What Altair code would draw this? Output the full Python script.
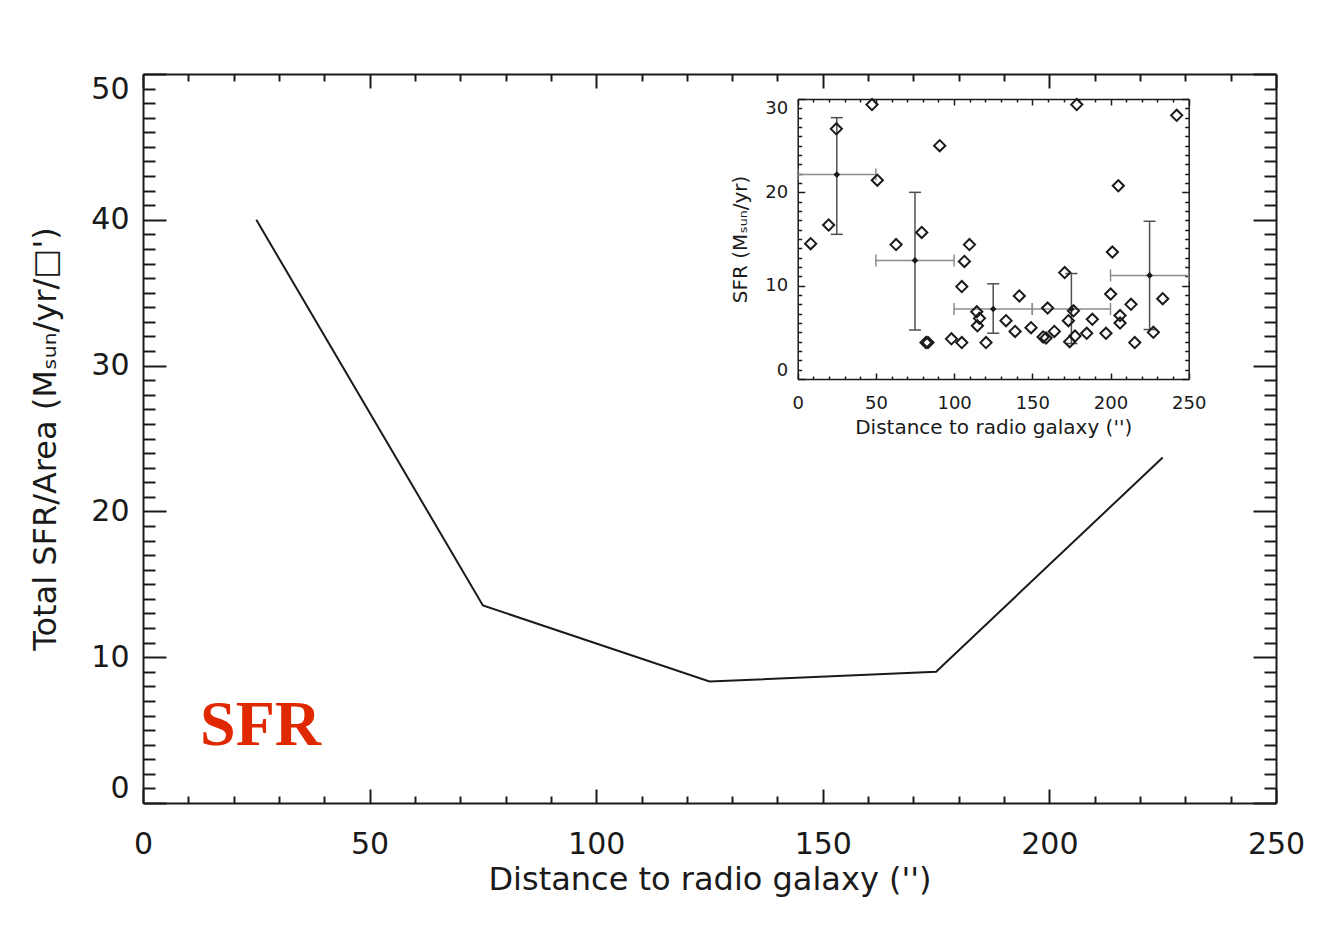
import altair as alt
import pandas as pd

# ---------------- data ----------------
# main panel: total SFR per area in distance bins
main_x = [25, 75, 125, 175, 225]
main_y = [40.0, 13.55, 8.33, 9.0, 23.7]

# inset: individual galaxies
pts_x = [8.3, 19.8, 24.7, 47.5, 50.9, 62.9, 79.3, 90.8, 82.0, 83.3,
         98.3, 104.9, 104.9, 106.6, 109.8, 114.5, 116.2, 114.9, 120.4, 133.2,
         139.0, 141.7, 149.2, 156.9, 158.8, 159.8, 164.1, 170.7, 173.1, 176.3,
         173.9, 177.3, 178.4, 184.8, 188.4, 197.1, 200.1, 201.2, 206.1, 206.1,
         205.0, 213.1, 215.5, 227.4, 233.4, 242.3]
pts_y = [14.5, 16.5, 26.8, 29.4, 21.3, 14.4, 15.7, 25.0, 3.9, 3.9,
         4.3, 3.9, 9.9, 12.6, 14.4, 7.2, 6.5, 5.7, 3.9, 6.25,
         5.1, 8.9, 5.5, 4.5, 4.4, 7.6, 5.1, 11.4, 6.25, 7.3,
         4.0, 4.6, 29.4, 4.9, 6.4, 4.9, 9.1, 13.6, 6.8, 6.0,
         20.7, 8.0, 3.9, 5.0, 8.6, 28.25]

# inset: binned means with error bars
bin_xc = [25, 75, 125, 175, 225]
bin_xlo = [0, 50, 100, 150, 200]
bin_xhi = [50, 100, 150, 200, 250]
bin_yc = [21.9, 12.7, 7.5, 7.5, 11.1]
bin_ylo = [15.5, 5.25, 4.9, 3.8, 5.3]
bin_yhi = [28.0, 20.0, 10.2, 11.3, 16.9]

label_text = ["SFR"]
label_x = [12.6]
label_y = [4.0]

x_major = [0, 50, 100, 150, 200, 250]
x_minor = list(range(0, 251, 10))
y_major = [0, 10, 20, 30, 40, 50]
y_minor = list(range(0, 51))
iy_major = [0, 10, 20, 30]
iy_minor = list(range(0, 31))

# ---------------- layout ----------------
W, H = 1133, 729
IX0, IX1 = 654.7, 1045.7
IY0, IY1 = 305.0, 25.0
FONT = "DejaVu Sans"
INK = "#1a1a1a"

main_df = pd.DataFrame({"x": main_x, "y": main_y})
pts_df = pd.DataFrame({"x": pts_x, "y": pts_y})
bin_df = pd.DataFrame({"xc": bin_xc, "xlo": bin_xlo, "xhi": bin_xhi,
                       "yc": bin_yc, "ylo": bin_ylo, "yhi": bin_yhi})
lab_df = pd.DataFrame({"x": label_x, "y": label_y, "t": label_text})


def mxs():
    return alt.Scale(domain=[0, 250], nice=False, zero=False)


def mys():
    return alt.Scale(domain=[0, 50], nice=False, zero=False)


def ixs():
    return alt.Scale(domain=[0, 250], range=[IX0, IX1], nice=False, zero=False)


def iys():
    return alt.Scale(domain=[0, 30], range=[IY0, IY1], nice=False, zero=False)


def tick_axis(orient, offset, values, test, major, minor, width, domain):
    return alt.Axis(orient=orient, offset=offset, values=values, labels=False,
                    title="", grid=False, domain=domain, domainColor=INK,
                    domainWidth=width, ticks=True, tickColor=INK, tickWidth=width,
                    tickSize={"condition": {"test": test, "value": major},
                              "value": minor})


def label_axis(orient, offset, values, lsize, tsize, pad, flush, title, tpad, width):
    return alt.Axis(orient=orient, offset=offset, values=values, ticks=False,
                    tickSize=0, grid=False, domain=True, domainColor=INK,
                    domainWidth=width, labelPadding=pad, labelFlush=flush,
                    labelFont=FONT, labelFontSize=lsize, labelColor=INK,
                    labelOverlap=False,
                    title=title, titleFont=FONT, titleFontSize=tsize,
                    titleFontWeight="normal", titleColor=INK, titlePadding=tpad)


X50 = "datum.value % 50 === 0"
Y10 = "datum.value % 10 === 0"

# ---- main panel ----
main_line = alt.Chart(main_df).mark_line(color=INK, strokeWidth=2).encode(
    x=alt.X("x:Q", scale=mxs(),
            axis=label_axis("bottom", 0, x_major, 30, 32, 26, False,
                            "Distance to radio galaxy ('')", 5, 2)),
    y=alt.Y("y:Q", scale=mys(),
            axis=label_axis("left", 0, y_major, 30, 32, 14, True,
                            "Total SFR/Area (Mₛᵤₙ/yr/□')", 28, 2)),
)

main_ticks_a = alt.Chart(main_df).mark_point(opacity=0).encode(
    x=alt.X("x:Q", scale=mxs(), axis=tick_axis("top", -H, x_minor, X50, 14, 7, 2, False)),
    y=alt.Y("y:Q", scale=mys(), axis=tick_axis("right", -W, y_minor, Y10, 23, 12, 2, False)),
)
main_ticks_b = alt.Chart(main_df).mark_point(opacity=0).encode(
    x=alt.X("x:Q", scale=mxs(), axis=tick_axis("bottom", -H, x_minor, X50, 14, 7, 2, True)),
    y=alt.Y("y:Q", scale=mys(), axis=tick_axis("left", -W, y_minor, Y10, 23, 12, 2, True)),
)

sfr_text = alt.Chart(lab_df).mark_text(
    font="Liberation Serif", fontSize=64, fontWeight="bold", color="#e02800",
    align="left", baseline="alphabetic").encode(
    x=alt.X("x:Q", scale=mxs(), axis=None),
    y=alt.Y("y:Q", scale=mys(), axis=None),
    text="t:N",
)

# ---- inset ----
ins_pts = alt.Chart(pts_df).mark_point(shape="diamond", filled=False, size=125,
                                       strokeWidth=2, color=INK, opacity=1).encode(
    x=alt.X("x:Q", scale=ixs(),
            axis=label_axis("bottom", IY0 - H, x_major, 18, 20, 15, False,
                            "Distance to radio galaxy ('')", 5, 1.5)),
    y=alt.Y("y:Q", scale=iys(),
            axis=label_axis("left", -IX0, iy_major, 18, 20, 10, True,
                            "SFR (Mₛᵤₙ/yr)", 14, 1.5)),
)
ins_ticks_a = alt.Chart(pts_df).mark_point(opacity=0).encode(
    x=alt.X("x:Q", scale=ixs(), axis=tick_axis("top", -IY0, x_minor, X50, 6, 3, 1.5, False)),
    y=alt.Y("y:Q", scale=iys(), axis=tick_axis("right", IX0 - W, iy_minor, Y10, 7, 4, 1.5, False)),
)
ins_ticks_b = alt.Chart(pts_df).mark_point(opacity=0).encode(
    x=alt.X("x:Q", scale=ixs(), axis=tick_axis("bottom", IY1 - H, x_minor, X50, 6, 3, 1.5, True)),
    y=alt.Y("y:Q", scale=iys(), axis=tick_axis("left", -IX1, iy_minor, Y10, 7, 4, 1.5, True)),
)

VCOL = "#505050"
HCOL = "#8c8c8c"

v_rule = alt.Chart(bin_df).mark_rule(color=VCOL, strokeWidth=1.5).encode(
    x=alt.X("xc:Q", scale=ixs(), axis=None),
    y=alt.Y("ylo:Q", scale=iys(), axis=None),
    y2="yhi:Q",
)
h_rule = alt.Chart(bin_df).mark_rule(color=HCOL, strokeWidth=1.5).encode(
    x=alt.X("xlo:Q", scale=ixs(), axis=None),
    x2="xhi:Q",
    y=alt.Y("yc:Q", scale=iys(), axis=None),
)
v_cap_lo = alt.Chart(bin_df).mark_tick(orient="horizontal", size=12, thickness=1.5,
                                       color=VCOL, opacity=1).encode(
    x=alt.X("xc:Q", scale=ixs(), axis=None),
    y=alt.Y("ylo:Q", scale=iys(), axis=None),
)
v_cap_hi = alt.Chart(bin_df).mark_tick(orient="horizontal", size=12, thickness=1.5,
                                       color=VCOL, opacity=1).encode(
    x=alt.X("xc:Q", scale=ixs(), axis=None),
    y=alt.Y("yhi:Q", scale=iys(), axis=None),
)
h_cap_lo = alt.Chart(bin_df).mark_tick(orient="vertical", size=12, thickness=1.5,
                                       color=HCOL, opacity=1).encode(
    x=alt.X("xlo:Q", scale=ixs(), axis=None),
    y=alt.Y("yc:Q", scale=iys(), axis=None),
)
h_cap_hi = alt.Chart(bin_df).mark_tick(orient="vertical", size=12, thickness=1.5,
                                       color=HCOL, opacity=1).encode(
    x=alt.X("xhi:Q", scale=ixs(), axis=None),
    y=alt.Y("yc:Q", scale=iys(), axis=None),
)
centers = alt.Chart(bin_df).mark_point(shape="diamond", filled=True, size=45,
                                       color=INK, opacity=1).encode(
    x=alt.X("xc:Q", scale=ixs(), axis=None),
    y=alt.Y("yc:Q", scale=iys(), axis=None),
)

chart = alt.layer(
    main_ticks_a, main_ticks_b, main_line, sfr_text,
    ins_ticks_a, ins_ticks_b,
    h_rule, v_rule, v_cap_lo, v_cap_hi, h_cap_lo, h_cap_hi,
    ins_pts, centers,
).resolve_scale(x="independent", y="independent").properties(
    width=W, height=H,
    autosize=alt.AutoSizeParams(type="none"),
    padding={"left": 135, "top": 66, "right": 32, "bottom": 110},
    background="white",
).configure_view(strokeOpacity=0)

chart.save("out.html", embed_options={"renderer": "svg", "actions": False})
